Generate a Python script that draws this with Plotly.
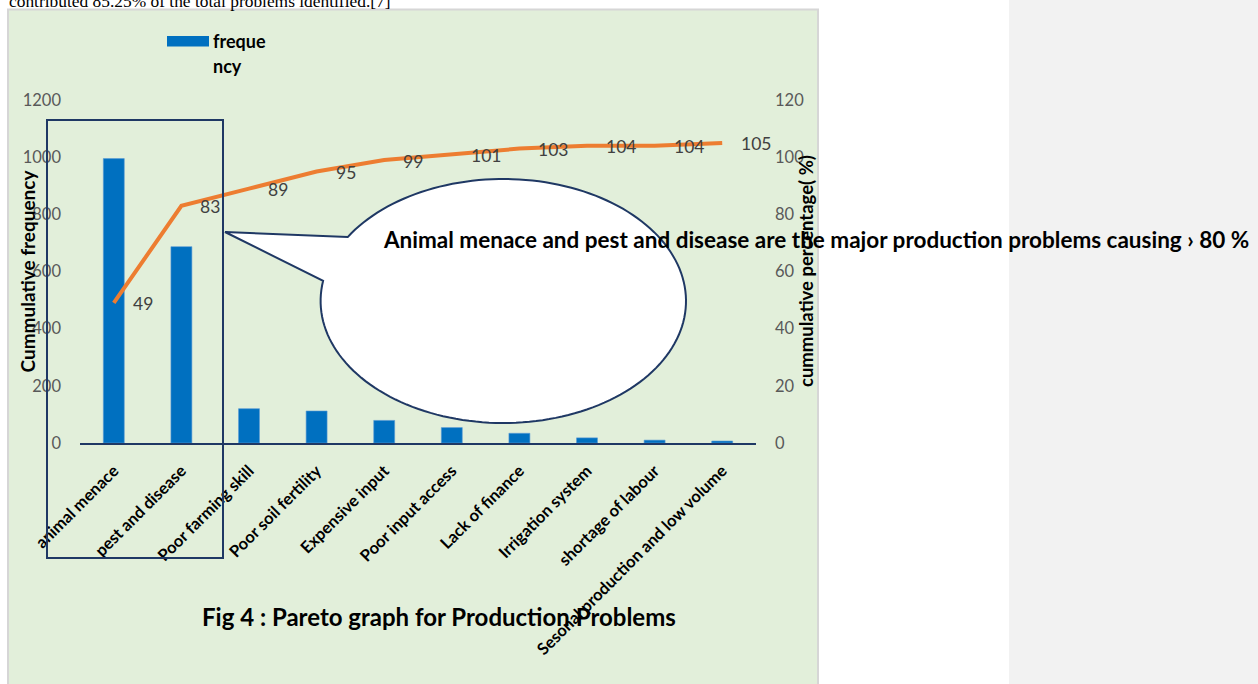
import math
import plotly.graph_objects as go

# ---------------- data ----------------
categories = ["animal menace", "pest and disease", "Poor farming skill", "Poor soil fertility",
              "Expensive input", "Poor input access", "Lack of finance", "Irrigation system",
              "shortage of labour", "Sesonal production and low volume"]
frequency = [995, 687, 120, 112, 79, 54, 34, 18, 10, 7]
cum_pct = [49, 83, 89, 95, 99, 101, 103, 104, 104, 105]
left_ticks = [0, 200, 400, 600, 800, 1000, 1200]
right_ticks = [0, 20, 40, 60, 80, 100, 120]

W, H = 1258, 684
L, R, T, B = 80, 756, 100, 443  # plot area in pixels


def px(x):
    return (x - L) / (R - L)


def py(y):
    return (B - y) / (B - T)


FONT = "Lato"
NAVY = "#1F3864"

fig = go.Figure()
fig.add_trace(go.Bar(x=categories, y=frequency, name="frequency", width=0.31,
                     marker=dict(color="#0070C0", line=dict(color="#5B9BD5", width=0.6)),
                     yaxis="y", showlegend=False))
fig.add_trace(go.Scatter(x=categories, y=cum_pct, name="cummulative percentage", mode="lines",
                         line=dict(color="#ED7D31", width=4), yaxis="y2", showlegend=False))

annotations = []
for c, v in zip(categories, cum_pct):
    annotations.append(dict(x=c, y=v, xref="x", yref="y2", text=str(v), showarrow=False,
                            xanchor="left", yanchor="middle", xshift=17, yshift=-1,
                            font=dict(family=FONT, size=17.5, color="#404040")))

# top page text (cut off)
annotations.append(dict(x=px(7), y=py(13.5), xref="paper", yref="paper", xanchor="left", yanchor="bottom",
                        text="contributed 85.25% of the total problems identified.[7]", showarrow=False,
                        font=dict(family="Liberation Serif", size=17.4, color="#000000")))
# legend text
annotations.append(dict(x=px(211), y=py(41), xref="paper", yref="paper", xanchor="left", yanchor="middle",
                        text="freque", showarrow=False,
                        font=dict(family=FONT, size=18, color="#000000", weight="bold")))
annotations.append(dict(x=px(211), y=py(66), xref="paper", yref="paper", xanchor="left", yanchor="middle",
                        text="ncy", showarrow=False,
                        font=dict(family=FONT, size=18, color="#000000", weight="bold")))
# axis titles
annotations.append(dict(x=px(26.5), y=py(271), xref="paper", yref="paper", textangle=-90,
                        xanchor="center", yanchor="middle",
                        text="Cummulative frequency", showarrow=False,
                        font=dict(family=FONT, size=19, color="#000000", weight="bold")))
annotations.append(dict(x=px(805.5), y=py(271.5), xref="paper", yref="paper", textangle=-90,
                        xanchor="center", yanchor="middle",
                        text="cummulative percentage( %)", showarrow=False,
                        font=dict(family=FONT, size=18.5, color="#000000", weight="bold")))
# callout text
annotations.append(dict(x=px(381), y=py(239), xref="paper", yref="paper", xanchor="left", yanchor="middle",
                        text="Animal menace and pest and disease are the major production problems causing › 80 %",
                        showarrow=False, font=dict(family=FONT, size=22.5, color="#000000", weight="bold")))
# figure caption
annotations.append(dict(x=px(438.5), y=py(616), xref="paper", yref="paper",
                        xanchor="center", yanchor="middle",
                        text="Fig 4 : Pareto graph for Production Problems", showarrow=False,
                        font=dict(family=FONT, size=24, color="#000000", weight="bold")))

# callout path (ellipse with tail)
cx, cy, rx, ry = 503.3, 301.0, 182.7, 122.0
tip = (225.0, 232.0)
a0, a1 = math.radians(211.6), math.radians(189.5 + 360)
pts = []
n = 160
for i in range(n + 1):
    t = a0 + (a1 - a0) * i / n
    pts.append((cx + rx * math.cos(t), cy + ry * math.sin(t)))
path = "M " + " L ".join(f"{px(x):.5f},{py(y):.5f}" for x, y in pts)
path += f" L {px(tip[0]):.5f},{py(tip[1]):.5f} Z"

shapes = [
    dict(type="rect", xref="paper", yref="paper", x0=px(1009), x1=px(1270), y0=py(-10), y1=py(700),
         fillcolor="#F2F2F2", line=dict(width=0), layer="below"),
    dict(type="rect", xref="paper", yref="paper", x0=px(8), x1=px(818), y0=py(9.5), y1=py(700),
         fillcolor="#E2EFDA", line=dict(color="#D6D6D6", width=2), layer="below"),
    dict(type="rect", xref="paper", yref="paper", x0=px(167), x1=px(209), y0=py(36), y1=py(46.5),
         fillcolor="#0070C0", line=dict(width=0), layer="above"),
    dict(type="rect", xref="paper", yref="paper", x0=px(47), x1=px(223), y0=py(120), y1=py(558),
         fillcolor="rgba(0,0,0,0)", line=dict(color=NAVY, width=2), layer="above"),
    dict(type="path", xref="paper", yref="paper", path=path,
         fillcolor="#FFFFFF", line=dict(color=NAVY, width=2), layer="above"),
]

fig.update_layout(
    width=W, height=H,
    margin=dict(l=L, r=W - R, t=T, b=H - B, pad=0),
    paper_bgcolor="#FFFFFF", plot_bgcolor="rgba(0,0,0,0)",
    showlegend=False,
    bargap=0.69,
    xaxis=dict(type="category", showline=True, linecolor=NAVY, linewidth=1.5, showgrid=False,
               ticks="", tickangle=-45, range=[-0.5, 9.5], ticklabelstandoff=10,
               tickfont=dict(family=FONT, size=16.5, color="#000000", weight="bold")),
    yaxis=dict(range=[0, 1200], tickvals=left_ticks, showgrid=False, zeroline=False, showline=False,
               ticks="", ticklabelstandoff=18,
               tickfont=dict(family=FONT, size=16.5, color="#595959")),
    yaxis2=dict(range=[0, 120], tickvals=right_ticks, overlaying="y", side="right", showgrid=False,
                zeroline=False, showline=False, ticks="", ticklabelstandoff=18,
                tickfont=dict(family=FONT, size=16.5, color="#595959")),
    annotations=annotations,
    shapes=shapes,
)

fig.write_html("out.html", config={"displayModeBar": False},
               post_script="document.body.style.margin='0';document.body.style.overflow='hidden';")
